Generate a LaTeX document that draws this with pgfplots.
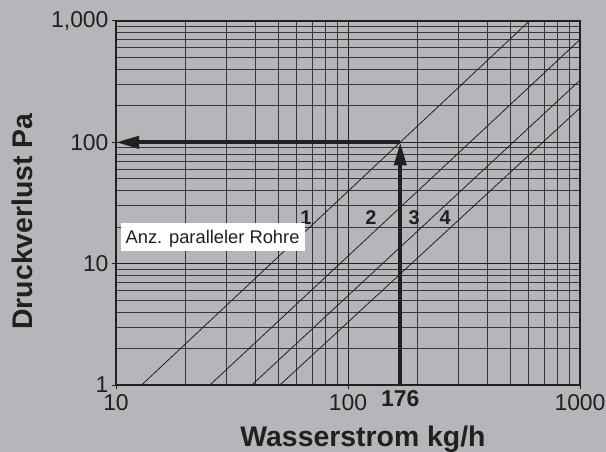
\documentclass[border=0pt]{standalone}
\usepackage{pgfplots}
\pgfplotsset{compat=1.18}
\usepackage{fontspec}
\setmainfont{Liberation Sans}
\usetikzlibrary{arrows.meta}
\definecolor{bg}{RGB}{181,182,185}
\definecolor{gridgray}{RGB}{55,55,57}
\definecolor{ink}{RGB}{35,31,32}
\begin{document}
\begin{tikzpicture}
\fill[bg] (-116bp,-67bp) rectangle (490bp,385bp);
\begin{axis}[
  at={(0,0)}, anchor=south west,
  scale only axis, width=464bp, height=364bp,
  xmode=log, ymode=log,
  xmin=10, xmax=1000, ymin=1, ymax=1000,
  xtick={10,100,1000}, xticklabels={10,100,1000},
  extra x ticks={168}, extra x tick labels={\textbf{176}},
  extra x tick style={grid=none, major tick length=0pt},
  ytick={1,10,100,1000}, yticklabels={1,10,100,{1,000}},
  minor xtick={20,30,40,50,60,70,80,90,200,300,400,500,600,700,800,900},
  minor ytick={2,3,4,5,6,7,8,9,20,30,40,50,60,70,80,90,200,300,400,500,600,700,800,900},
  grid=both,
  major grid style={ink, line width=0.9bp},
  minor grid style={gridgray, line width=0.85bp},
  axis line style={ink, line width=1.5bp},
  tick style={ink, line width=1bp},
  tick align=outside, major tick length=4bp, minor tick length=0pt,
  xtick pos=bottom, ytick pos=left,
  ticklabel style={font=\fontsize{23}{25}\selectfont, text=ink},
  xticklabel style={yshift=-2bp},
  /pgf/number format/assume math mode=true,
  axis background/.style={fill=bg},
  clip=false,
]
% pipe characteristic lines (1-4 parallel pipes)
\addplot[ink, line width=0.8bp] coordinates {(12.9,1) (605,1000)};
\addplot[ink, line width=0.8bp] coordinates {(25.4,1) (1000,703)};
\addplot[ink, line width=0.8bp] coordinates {(38.5,1) (1000,325)};
\addplot[ink, line width=0.8bp] coordinates {(50.9,1) (1000,192)};
% reading arrows
\addplot[ink, line width=4bp, -{Triangle[length=23bp,width=12bp]}] coordinates {(168,1) (168,100)};
\addplot[ink, line width=4bp, -{Triangle[length=23bp,width=12bp]}] coordinates {(168,100) (10,100)};
% labels
\node[font=\bfseries\fontsize{20}{20}\selectfont, text=ink] at (axis cs:65.9,24) {1};
\node[font=\bfseries\fontsize{20}{20}\selectfont, text=ink] at (axis cs:125.6,24) {2};
\node[font=\bfseries\fontsize{20}{20}\selectfont, text=ink] at (axis cs:193,24) {3};
\node[font=\bfseries\fontsize{20}{20}\selectfont, text=ink] at (axis cs:262,24) {4};
\node[fill=white, anchor=west, inner xsep=5bp, inner ysep=0pt, text height=13.3bp, text depth=0pt,
      minimum height=27.7bp, font=\fontsize{18.4}{19}\selectfont, text=ink] at (axis cs:10.45,16.5) {Anz. paralleler Rohre};
\end{axis}
\node[anchor=base, font=\bfseries\fontsize{28.5}{30}\selectfont, text=ink] at (247bp,-61.7bp) {Wasserstrom kg/h};
\node[anchor=base, rotate=90, font=\bfseries\fontsize{28.5}{30}\selectfont, text=ink] at (-83bp,163.5bp) {Druckverlust Pa};
\pgfresetboundingbox
\useasboundingbox (-116bp,-67bp) rectangle (490bp,385bp);
\end{tikzpicture}
\end{document}
